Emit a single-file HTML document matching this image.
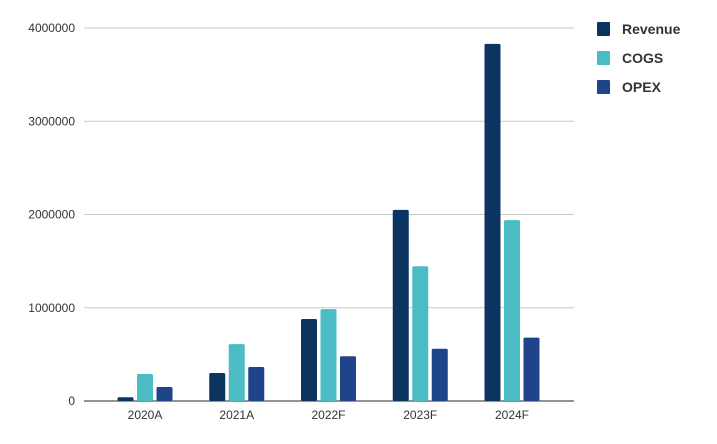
<!DOCTYPE html>
<html><head><meta charset="utf-8"><style>
html,body{margin:0;padding:0;background:#fff;}
svg{display:block;font-family:"Liberation Sans",sans-serif;}
</style></head><body>
<svg id="chart" width="717" height="444" viewBox="0 0 717 444">
<g id="grid"></g>
<g id="yticks"></g>
<g id="bars"></g>
<g id="xticks"></g>
<g id="legend"></g>
</svg>
<script>
const categories = ["2020A","2021A","2022F","2023F","2024F"];
const revenue = [40000, 300000, 880000, 2050000, 3830000];
const cogs = [290000, 610000, 985000, 1445000, 1940000];
const opex = [150000, 365000, 480000, 560000, 680000];
const yTicks = [0, 1000000, 2000000, 3000000, 4000000];
const seriesNames = ["Revenue","COGS","OPEX"];

const NS="http://www.w3.org/2000/svg";
const colors=["#0b3560","#4bbcc3","#1f4489"];
const series=[revenue,cogs,opex];
const x0=84,x1=574,yBase=401,yTop=28,yMax=4000000;
function y(v){return yBase-(v/yMax)*(yBase-yTop);}
function xc(i){return 145+i*91.75;}
function mk(tag,attrs,parent){const e=document.createElementNS(NS,tag);for(const k in attrs)e.setAttribute(k,attrs[k]);parent.appendChild(e);return e;}
const grid=document.getElementById('grid'),yt=document.getElementById('yticks'),bars=document.getElementById('bars'),xt=document.getElementById('xticks'),lg=document.getElementById('legend');
yTicks.forEach(t=>{
  const l=mk('line',{x1:x0,x2:x1,y1:y(t),y2:y(t),stroke:t===0?'#555':'#c8c8c8','stroke-width':t===0?1.3:1},grid);
  
  
  const tx=mk('text',{x:75,y:y(t)+4,'text-anchor':'end','font-size':12,fill:'#333'},yt);
  tx.textContent=t;
  
  
});
const bw=16,step=19.5;
categories.forEach((c,i)=>{
  series.forEach((s,j)=>{
    const bx=xc(i)+(j-1)*step-bw/2;
    const r=mk('rect',{x:bx,y:y(s[i]),width:bw,height:yBase-y(s[i]),fill:colors[j],rx:1.5},bars);
    
    
  });
  const tx=mk('text',{x:xc(i),y:419,'text-anchor':'middle','font-size':12,fill:'#333'},xt);
  tx.textContent=c;
  
  
});
seriesNames.forEach((n,j)=>{
  const yy=22+j*29;
  const r=mk('rect',{x:597,y:yy,width:13,height:14,fill:colors[j],rx:1},lg);
  
  
  const tx=mk('text',{x:622,y:yy+12,'font-size':14,'font-weight':'bold',fill:'#333'},lg);
  tx.textContent=n;
  
  
});
</script>
</body></html>
